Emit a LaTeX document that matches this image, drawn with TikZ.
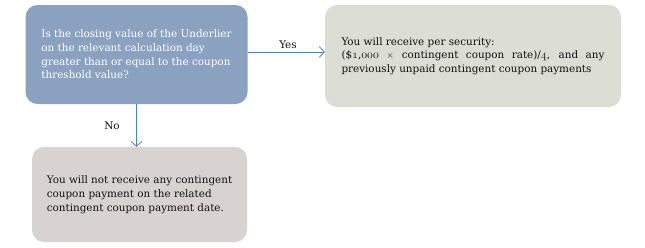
\documentclass[tikz,border=0pt]{standalone}
\usepackage{fontspec}
\setmainfont{DejaVu Serif}
\usetikzlibrary{arrows.meta,calc}
\definecolor{qblue}{HTML}{8AA2BF}
\definecolor{ygray}{HTML}{DCDDD5}
\definecolor{ngray}{HTML}{D8D3D1}
\definecolor{arr}{HTML}{4F81BD}
\definecolor{txt}{HTML}{111111}
\newcommand{\osn}[1]{{\usefont{OML}{cmm}{m}{it}\fontsize{12}{13.5}\selectfont#1}}
\begin{document}
\begin{tikzpicture}[x=1pt,y=1pt,
  box/.style={rounded corners=12pt,draw=none,inner sep=0pt,align=left,font=\fontsize{10.4}{13.7}\selectfont},
  conn/.style={draw=arr,line width=0.8pt,-{Straight Barb[length=5pt,width=11pt,line width=0.8pt]}},
  lab/.style={font=\fontsize{10.4}{13}\selectfont,text=txt}]
\useasboundingbox (0,0) rectangle (645,-247);
\node[box,fill=qblue,minimum width=222,minimum height=99,text=white] (q) at (136.5,-54.5)
  {Is the closing value of the Underlier\\ on the relevant calculation day\\ greater than or equal to the coupon\\ threshold value?};
\node[box,fill=ygray,minimum width=296,minimum height=102,text=txt] (y) at (473,-56)
  {You will receive per security:\\ \makebox[263pt][s]{(\$\osn{1},\osn{000} $\times$ contingent coupon rate)/\osn{4}, and any}\\ previously unpaid contingent coupon payments};
\node[box,fill=ngray,minimum width=215,minimum height=95,text=txt,font=\fontsize{10.4}{14}\selectfont] (n) at (139.5,-194.5)
  {You will not receive any contingent\\ coupon payment on the related\\ contingent coupon payment date.};
\draw[conn] ([yshift=2.5]q.east) -- ([yshift=2.5]q.east -| y.west);
\draw[conn] (q.south) -- (q.south |- n.north);
\node[lab] (yes) at (288,-45) {Yes};
\node[lab] (no) at (112,-126) {No};
\end{tikzpicture}
\end{document}
